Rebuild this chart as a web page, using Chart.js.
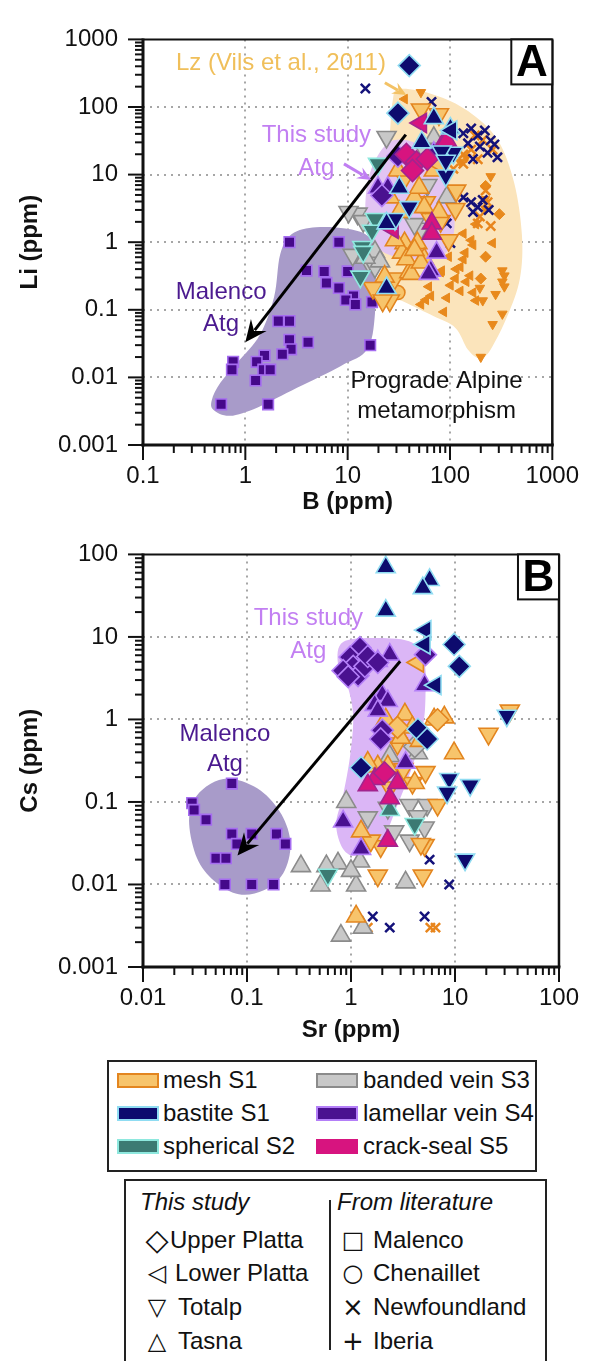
<!DOCTYPE html>
<html>
<head>
<meta charset="utf-8">
<script src="https://cdn.jsdelivr.net/npm/chart.js@4.4.1/dist/chart.umd.min.js"></script>
<style>
  body { margin: 0; background: #fff; width: 596px; height: 1361px; overflow: hidden; position: relative;
         font-family: 'Liberation Sans', Arial, sans-serif; color: #111; }
  canvas { position: absolute; left: 0; }
  .box { position: absolute; border: 2px solid #222; box-sizing: border-box; }
  .box span { position: absolute; font-size: 24px; line-height: 30px; white-space: nowrap; }
  .sw { position: absolute; width: 42px; height: 15px; border: 2px solid; box-sizing: border-box; }
  .box span.sym { width: 36px; text-align: center; font-family: 'DejaVu Sans', sans-serif; }
  .box span.head { font-style: italic; }
  .divider { position: absolute; width: 2px; background: #222; }
</style>
</head>
<body>
<canvas id="chartA" width="596" height="515" style="top:0"></canvas>
<canvas id="chartB" width="596" height="530" style="top:515px"></canvas>

<div class="box" style="left:107px;top:1060px;width:430px;height:112px">
  <div class="sw" style="left:8px;top:11px;background:#f7c46b;border-color:#e3851f"></div><span style="left:54px;top:3px">mesh S1</span>
  <div class="sw" style="left:8px;top:44px;background:#0d0b6e;border-color:#8fdcf2"></div><span style="left:54px;top:36px">bastite S1</span>
  <div class="sw" style="left:8px;top:77px;background:#3c7a73;border-color:#8ee8de"></div><span style="left:54px;top:69px">spherical S2</span>
  <div class="sw" style="left:207px;top:11px;background:#c8c8c8;border-color:#8b8b8b"></div><span style="left:254px;top:3px">banded vein S3</span>
  <div class="sw" style="left:207px;top:44px;background:#4a1190;border-color:#b47ff8"></div><span style="left:254px;top:36px">lamellar vein S4</span>
  <div class="sw" style="left:207px;top:77px;background:#d7147f;border-color:#d7147f"></div><span style="left:254px;top:69px">crack-seal S5</span>
</div>

<div class="box" style="left:124px;top:1179px;width:423px;height:200px">
  <span class="head" style="left:14px;top:6px">This study</span>
  <span class="head" style="left:211px;top:6px">From literature</span>
  <div class="divider" style="left:203px;top:19px;height:150px"></div>
  <span class="sym" style="left:13px;top:44px;font-size:30px">◇</span><span style="left:44px;top:44px">Upper Platta</span>
  <span class="sym" style="left:13px;top:77px;font-size:24px">◁</span><span style="left:49px;top:77px">Lower Platta</span>
  <span class="sym" style="left:13px;top:111px;font-size:24px">▽</span><span style="left:52px;top:111px">Totalp</span>
  <span class="sym" style="left:13px;top:145px;font-size:24px">△</span><span style="left:52px;top:145px">Tasna</span>
  <span class="sym" style="left:209px;top:44px;font-size:24px">□</span><span style="left:247px;top:44px">Malenco</span>
  <span class="sym" style="left:209px;top:77px;font-size:24px">○</span><span style="left:247px;top:77px">Chenaillet</span>
  <span class="sym" style="left:209px;top:111px;font-size:26px">×</span><span style="left:247px;top:111px">Newfoundland</span>
  <span class="sym" style="left:209px;top:145px;font-size:26px">+</span><span style="left:247px;top:145px">Iberia</span>
</div>

<script>
//--------------------------------------------------------
// tick labels (decades only)
const bTicks  = [0.1, 1, 10, 100, 1000];
const liTicks = [0.001, 0.01, 0.1, 1, 10, 100, 1000];
const srTicks = [0.01, 0.1, 1, 10, 100];
const csTicks = [0.001, 0.01, 0.1, 1, 10, 100];

//--------------------------------------------------------
// PANEL A : B (ppm) vs Li (ppm)   [B, Li]
const bastiteUpperA  = [[40, 410], [31, 81]];
const bastiteLowerA  = [[103, 45]];
const bastiteTasnaA  = [[69.5, 68.5], [101, 48], [32, 6.4], [24, 1.9], [24, 0.21], [53, 30]];
const bastiteTotalpA = [[108, 21], [91, 9.7], [40, 3.3], [29, 2.2], [83, 22], [91, 16]];
const bastiteNewfA   = [[14.9, 188], [66, 119], [135, 41], [161, 48], [187, 38], [219, 45], [250, 32], [272, 28],
                        [196, 26], [150, 29], [233, 21], [291, 18], [168, 17], [135, 4.6], [161, 3.9], [187, 3.3],
                        [209, 4.2], [239, 3.0], [168, 2.8], [93, 1.9], [101, 0.97]];

const meshTotalpA = [[52, 92], [78, 78], [115, 5.8], [113, 3.1], [17.7, 0.21], [25.8, 0.137], [22, 0.137],
                     [28.8, 0.29], [36, 8.8], [65, 2.2], [97, 1.07], [58, 3.9], [81, 2.05]];
const meshTasnaA  = [[31, 11.5], [69.5, 11.5], [36, 0.97], [34, 0.70], [48, 0.97], [40, 0.36], [23, 0.31],
                     [56, 0.56], [42, 0.34], [37.5, 0.56], [52, 0.50], [45, 4.6], [56, 3.3], [26, 4.6],
                     [32, 2.8], [50, 6.4], [78, 2.8], [29, 1.07], [45, 0.77]];
const meshLowerA  = [[78, 14.4]];
const meshChenA   = [[31, 0.18]];
const meshNewfA   = [[175, 38], [209, 32.5], [161, 23.4], [135, 19.9], [261, 23.4], [187, 16.9], [223, 5.8],
                     [233, 3.9], [196, 2.4], [250, 1.74], [187, 1.9], [135, 14.4], [108, 12.2]];

const lzDownA    = [[250, 9.4], [219, 4.3], [223, 3.1], [340, 0.32], [325, 0.38], [325, 0.26], [325, 0.087],
                    [261, 0.061], [200, 0.020], [279, 0.17], [340, 0.22], [209, 0.137], [196, 0.21], [144, 18],
                    [126, 15.4], [52, 165]];
const lzLeftA    = [[36, 131], [179, 1.85], [135, 1.34], [161, 1.07], [261, 0.97], [135, 0.56], [157, 0.32],
                    [115, 0.40], [101, 0.23], [81, 0.36], [52, 0.12], [65, 0.16], [62, 0.22], [58, 0.14],
                    [87, 0.093], [93, 0.15], [113, 0.29], [126, 0.19], [144, 0.26], [168, 0.18], [179, 0.137],
                    [141, 0.70], [168, 0.91], [83, 0.38], [97, 0.61], [126, 0.43]];
const lzDiamondA = [[304, 2.6], [223, 0.61], [200, 0.29], [223, 6.8]];

const bandedTotalpA = [[24, 36], [56, 23], [60, 7.0], [12.5, 2.65], [10.2, 2.8], [11.2, 0.65], [15.9, 0.52],
                       [18.5, 0.43], [52, 1.58], [45, 1.85], [14.2, 2.05]];
const bandedTasnaA  = [[93, 4.6], [18.5, 0.72], [20.7, 0.52], [14.9, 0.59], [69.5, 35]];

const sphericalTotalpA = [[18.5, 2.2], [17.3, 1.48], [13.9, 0.85], [13.3, 0.31], [14.2, 0.72], [19.8, 14.4]];

const lamellarUpperA = [[31, 18.7], [21.6, 4.9]];
const lamellarTasnaA = [[19.8, 6.4], [24.7, 6.4], [74, 0.70], [65, 0.38], [62, 0.34], [69.5, 21]];

const crackLowerA = [[52, 58], [27.5, 1.58]];
const crackUpperA = [[37.5, 19.9], [47, 15.4], [43, 11.5], [60, 17]];
const crackTasnaA = [[87, 30], [66.5, 1.9], [66.5, 1.34], [93, 32]];

const malencoA = [[2.7, 1.0], [8.2, 1.0], [3.96, 0.38], [5.9, 0.37], [6.2, 0.25], [8.2, 0.21], [10, 0.37],
                  [11.4, 0.16], [9.6, 0.14], [11.9, 0.12], [17.3, 0.13], [16.6, 0.03], [2.7, 0.068], [2.1, 0.068],
                  [2.7, 0.036], [4.1, 0.033], [2.8, 0.026], [2.3, 0.022], [1.54, 0.021], [0.76, 0.017],
                  [0.74, 0.013], [1.29, 0.017], [1.5, 0.013], [1.75, 0.013], [1.26, 0.009], [0.58, 0.004], [1.67, 0.004]];

// field outlines (B, Li)
const malencoFieldA = [[0.47, 0.0046], [0.57, 0.0083], [0.85, 0.017], [1.38, 0.042], [1.91, 0.155], [2.19, 0.66],
                       [2.85, 1.32], [4.9, 1.66], [9.5, 1.6], [15.5, 1.26], [18.5, 0.66], [18.5, 0.089], [15.5, 0.026],
                       [8.6, 0.0148], [3.2, 0.007], [1.32, 0.0036], [0.71, 0.0027], [0.49, 0.0033]];
const lzFieldA = [[32.1, 184], [69.5, 152], [150, 87], [291, 32.9], [424, 7.6], [505, 1.27], [483, 0.294],
                  [363, 0.080], [249, 0.0257], [196, 0.0191], [150, 0.0257], [113, 0.054], [69.5, 0.080],
                  [35.9, 0.13], [24.2, 0.18], [20.7, 0.56], [23.1, 5.5], [25.8, 38.7], [27.5, 121]];
const studyFieldA = [[17, 12], [28.8, 32.5], [69.5, 19.9], [108, 3.9], [97, 0.77], [45, 0.56], [20, 0.8], [15, 2.5]];

//--------------------------------------------------------
// PANEL B : Sr (ppm) vs Cs (ppm)   [Sr, Cs]
const bastiteTasnaB  = [[2.16, 70], [5.7, 49], [4.9, 39], [2.16, 20.8]];
const bastiteLowerB  = [[5.2, 12.1], [5.1, 8.1], [6.5, 2.6]];
const bastiteUpperB  = [[9.8, 8.1], [11, 4.4], [4.4, 0.76], [5.4, 0.58], [1.25, 0.26]];
const bastiteTotalpB = [[31.5, 1.11], [8.8, 0.19], [8.4, 0.13], [14, 0.16], [12.5, 0.020]];
const bastiteNewfB   = [[5.7, 0.020], [8.8, 0.010], [1.62, 0.0041], [2.36, 0.0030], [5.1, 0.0041]];

const meshTasnaB  = [[3.3, 1.15], [6.3, 1.0], [7.9, 1.06], [9.8, 0.39], [1.81, 0.27], [4.1, 0.17], [1.25, 0.044],
                     [1.12, 0.0041], [2.16, 1.0], [3.9, 0.8], [2.26, 0.27], [1.45, 0.30], [3.0, 0.6], [4.6, 0.55]];
const meshTotalpB = [[21, 0.67], [2.8, 0.51], [2.36, 0.15], [3.9, 0.17], [1.93, 0.029], [5.1, 0.030], [6.8, 0.092],
                     [1.81, 0.0128], [4.9, 0.0128], [33.7, 1.28], [1.55, 0.034], [4.7, 0.031], [3.2, 0.25], [5.2, 0.23]];
const meshLowerB  = [[4.4, 4.9]];
const meshUpperB  = [[2.8, 0.8], [6.8, 0.99]];
const meshNewfB   = [[1.3, 0.0030], [1.45, 0.0030], [5.8, 0.0030], [6.5, 0.0030]];

const bandedTasnaB  = [[2.36, 0.36], [4.4, 0.39], [0.9, 0.10], [1.22, 0.019], [0.75, 0.018], [0.58, 0.0167],
                       [0.33, 0.0167], [0.51, 0.0097], [1.12, 0.0097], [3.35, 0.0106], [0.80, 0.0024],
                       [1.3, 0.0030], [1.0, 0.0146]];
const bandedTotalpB = [[1.45, 0.065], [3.66, 0.092], [5.4, 0.092], [2.6, 0.044], [3.66, 0.034], [5.1, 0.049],
                       [4.4, 0.067], [2.26, 0.085]];
const bandedUpperB  = [[4.1, 0.47]];

const sphericalTotalpB = [[0.60, 0.0131], [4.1, 0.054]];
const sphericalTasnaB  = [[2.36, 0.080]];

const lamellarUpperB = [[1.22, 7.4], [0.98, 5.7], [1.05, 4.4], [0.84, 3.9], [1.17, 3.4], [1.36, 4.4], [1.45, 5.8],
                        [1.81, 4.9], [0.94, 3.3], [5.2, 6.1], [2.0, 0.74], [1.93, 0.58]];
const lamellarTasnaB = [[1.81, 5.1], [2.36, 6.1], [2.0, 1.97], [2.26, 1.67], [1.69, 1.5], [1.81, 1.28], [5.1, 2.6],
                        [3.35, 0.30], [0.84, 0.058], [1.25, 0.027]];

const crackTasnaB = [[1.7, 0.19], [2.36, 0.111], [1.45, 0.16], [2.26, 0.034], [2.8, 0.17]];
const crackUpperB = [[2.1, 0.225]];

const malencoB = [[0.0715, 0.167], [0.0297, 0.097], [0.031, 0.080], [0.0404, 0.061], [0.0715, 0.041], [0.111, 0.041],
                  [0.080, 0.031], [0.192, 0.041], [0.234, 0.031], [0.0503, 0.0208], [0.0627, 0.0208],
                  [0.0613, 0.010], [0.111, 0.010], [0.18, 0.010]];

const malencoFieldB = [[0.0715, 0.191], [0.135, 0.138], [0.215, 0.0703], [0.262, 0.031], [0.224, 0.0138],
                       [0.145, 0.0085], [0.0834, 0.0076], [0.0482, 0.0111], [0.0331, 0.0208], [0.0278, 0.0536],
                       [0.031, 0.106], [0.0451, 0.167]];
const studyFieldB = [[0.84, 8.7], [1.81, 9.7], [3.9, 8.5], [5.1, 4.7], [5.2, 1.82], [4.9, 0.81], [3.9, 0.27],
                     [2.8, 0.092], [2.0, 0.036], [1.17, 0.0225], [0.84, 0.027], [0.72, 0.054], [0.84, 0.121],
                     [0.98, 0.36], [1.05, 1.06], [0.94, 2.38], [0.75, 4.7]];

// trend arrows [from, to]
const arrowA = [[37, 39], [1.0, 0.033]];
const arrowB = [[2.97, 5.08], [0.081, 0.0225]];

//--------------------------------------------------------
//--------------------------------------------------------
// STYLES

const FONT = "'Liberation Sans', Arial, Helvetica, sans-serif";
Chart.defaults.font.family = FONT;

const colours = {
  mesh:      { fill: '#f7c46b', edge: '#e3851f' },
  bastite:   { fill: '#0d0b6e', edge: '#8fdcf2' },
  spherical: { fill: '#3c7a73', edge: '#8ee8de' },
  banded:    { fill: '#c8c8c8', edge: '#8b8b8b' },
  lamellar:  { fill: '#4a1190', edge: '#b47ff8' },
  crack:     { fill: '#d7147f', edge: '#a2248e' },
  malenco:   { fill: '#45098a', edge: '#a56cf0' },
  lz:        { fill: '#e8891c', edge: '#e8891c' }
};

const shapes = {
  upper:  { style: 'rectRot',  rot: 0,   r: 11 },
  lower:  { style: 'triangle', rot: -90, r: 11 },
  totalp: { style: 'triangle', rot: 180, r: 11 },
  tasna:  { style: 'triangle', rot: 0,   r: 11 },
  square: { style: 'rect',     rot: 0,   r: 7.5 },
  circle: { style: 'circle',   rot: 0,   r: 7 },
  cross:  { style: 'crossRot', rot: 0,   r: 6.5 },
  smallDown: { style: 'triangle', rot: 180, r: 5.5 },
  smallLeft: { style: 'triangle', rot: -90, r: 5.5 },
  smallDiam: { style: 'rectRot',  rot: 0,   r: 5.5 }
};

function ds(arr, kind, shape, lineColour) {
  const c = colours[kind], s = shapes[shape];
  return {
    data: arr.map(p => ({ x: p[0], y: p[1] })),
    pointStyle: s.style,
    pointRotation: s.rot,
    pointRadius: s.r,
    backgroundColor: c.fill,
    borderColor: lineColour || c.edge,
    borderWidth: lineColour ? 2.5 : (s.r < 6 ? 1 : 1.6)
  };
}

function axis(min, max, ticks, size, pad) {
  return {
    type: 'logarithmic',
    min: min, max: max,
    afterBuildTicks: s => { s.ticks = ticks.map(v => ({ value: v })); },
    afterFit: size,
    ticks: {
      autoSkip: false, maxRotation: 0, color: '#111',
      font: { size: 24 },
      padding: pad,
      callback: v => ticks.includes(v) ? String(v) : ''
    },
    grid: {
      drawTicks: false, lineWidth: 2,
      color: c => (c.index > 0 && c.index < ticks.length - 1) ? '#a6a6a6' : 'rgba(0,0,0,0)'
    },
    border: { display: false, dash: [2, 5] }
  };
}

function smoothClosed(ctx, p) {
  const n = p.length;
  ctx.moveTo(p[0][0], p[0][1]);
  for (let i = 0; i < n; i++) {
    const p0 = p[(i - 1 + n) % n], p1 = p[i], p2 = p[(i + 1) % n], p3 = p[(i + 2) % n];
    ctx.bezierCurveTo(p1[0] + (p2[0] - p0[0]) / 6, p1[1] + (p2[1] - p0[1]) / 6,
                      p2[0] - (p3[0] - p1[0]) / 6, p2[1] - (p3[1] - p1[1]) / 6, p2[0], p2[1]);
  }
  ctx.closePath();
}

function drawArrow(ctx, x1, y1, x2, y2, colour, w, head) {
  const a = Math.atan2(y2 - y1, x2 - x1), c = Math.cos(a), s = Math.sin(a);
  ctx.strokeStyle = colour; ctx.fillStyle = colour; ctx.lineWidth = w;
  ctx.beginPath(); ctx.moveTo(x1, y1); ctx.lineTo(x2 - c * head * 0.7, y2 - s * head * 0.7); ctx.stroke();
  ctx.beginPath();
  ctx.moveTo(x2, y2);
  ctx.lineTo(x2 - c * head + s * head * 0.45, y2 - s * head - c * head * 0.45);
  ctx.lineTo(x2 - c * head * 0.65, y2 - s * head * 0.65);
  ctx.lineTo(x2 - c * head - s * head * 0.45, y2 - s * head + c * head * 0.45);
  ctx.closePath(); ctx.fill();
}

// fields, arrows, notes, frame, minor ticks, titles, panel letter
function deco(cfg) {
  return {
    id: 'deco',
    beforeDatasetsDraw(chart) {
      const { ctx, chartArea: a, scales: { x, y } } = chart;
      ctx.save();
      ctx.beginPath(); ctx.rect(a.left, a.top, a.right - a.left, a.bottom - a.top); ctx.clip();
      cfg.fields.forEach(f => {
        const p = f.data.map(v => [x.getPixelForValue(v[0]), y.getPixelForValue(v[1])]);
        ctx.beginPath(); smoothClosed(ctx, p);
        ctx.fillStyle = f.colour; ctx.fill();
      });
      ctx.restore();
    },
    afterDatasetsDraw(chart) {
      const { ctx, scales: { x, y } } = chart;
      ctx.save();
      cfg.arrows.forEach(r => {
        drawArrow(ctx, x.getPixelForValue(r.d[0][0]), y.getPixelForValue(r.d[0][1]),
                  x.getPixelForValue(r.d[1][0]), y.getPixelForValue(r.d[1][1]), r.colour, r.w, r.head);
      });
      ctx.textAlign = 'center'; ctx.textBaseline = 'middle';
      cfg.notes.forEach(t => {
        ctx.font = '24px ' + FONT; ctx.fillStyle = t.colour;
        ctx.fillText(t.text, x.getPixelForValue(t.at[0]), y.getPixelForValue(t.at[1]));
      });
      ctx.restore();
    },
    afterDraw(chart) {
      const { ctx, chartArea: a, scales: { x, y } } = chart;
      ctx.save();
      ctx.strokeStyle = '#111';
      ctx.lineWidth = 2;
      ctx.beginPath(); ctx.moveTo(a.left, a.top); ctx.lineTo(a.right, a.top); ctx.stroke();
      ctx.lineWidth = 2.5;
      ctx.beginPath(); ctx.moveTo(a.right, a.top); ctx.lineTo(a.right, a.bottom); ctx.stroke();
      ctx.lineWidth = 3;
      ctx.beginPath(); ctx.moveTo(a.left, a.top - 1); ctx.lineTo(a.left, a.bottom + 1.5); ctx.stroke();
      ctx.beginPath(); ctx.moveTo(a.left - 1.5, a.bottom); ctx.lineTo(a.right + 1.5, a.bottom); ctx.stroke();
      // tick marks
      ctx.lineWidth = 2;
      const marks = (ticks, fn) => ticks.forEach((d, i) => {
        fn(d, 15);
        if (i < ticks.length - 1) for (let m = 2; m <= 9; m++) fn(m * d, 8);
      });
      marks(cfg.xTicks, (v, len) => {
        const px = x.getPixelForValue(v);
        ctx.beginPath(); ctx.moveTo(px, a.bottom); ctx.lineTo(px, a.bottom + len); ctx.stroke();
      });
      marks(cfg.yTicks, (v, len) => {
        const py = y.getPixelForValue(v);
        ctx.beginPath(); ctx.moveTo(a.left, py); ctx.lineTo(a.left - len, py); ctx.stroke();
      });
      // axis titles
      ctx.fillStyle = '#111';
      ctx.font = 'bold 24px ' + FONT;
      ctx.textAlign = 'center'; ctx.textBaseline = 'middle';
      ctx.fillText(cfg.xTitle, (a.left + a.right) / 2, cfg.xTitleY);
      ctx.save();
      ctx.translate(30, (a.top + a.bottom) / 2); ctx.rotate(-Math.PI / 2);
      ctx.fillText(cfg.yTitle, 0, 0);
      ctx.restore();
      // panel letter
      ctx.fillStyle = '#fff';
      ctx.fillRect(a.right - 41, a.top, 41, 45);
      ctx.lineWidth = 2;
      ctx.strokeRect(a.right - 41, a.top, 41, 45);
      ctx.fillStyle = '#000';
      ctx.font = 'bold 44px ' + FONT;
      ctx.fillText(cfg.letter, a.right - 20.5, a.top + 24);
      ctx.restore();
    }
  };
}

function baseOptions(xs, ys, padTop) {
  return {
    responsive: false, animation: false, events: [], devicePixelRatio: 1,
    layout: { padding: { top: padTop, right: 34, left: 0, bottom: 0 } },
    plugins: { legend: { display: false }, tooltip: { enabled: false } },
    scales: { x: xs, y: ys }
  };
}

//--------------------------------------------------------
//--------------------------------------------------------
//
// GRAFICA A

new Chart(document.getElementById('chartA'), {
  type: 'scatter',
  data: {
    datasets: [
      ds(bastiteUpperA, 'bastite', 'upper'),
      ds(bastiteLowerA, 'bastite', 'lower'),
      ds(bastiteTasnaA, 'bastite', 'tasna'),
      ds(bastiteTotalpA, 'bastite', 'totalp'),
      ds(crackUpperA, 'crack', 'upper'),
      ds(crackLowerA, 'crack', 'lower'),
      ds(crackTasnaA, 'crack', 'tasna'),
      ds(lamellarUpperA, 'lamellar', 'upper'),
      ds(lamellarTasnaA, 'lamellar', 'tasna'),
      ds(sphericalTotalpA, 'spherical', 'totalp'),
      ds(meshLowerA, 'mesh', 'lower'),
      ds(meshTasnaA, 'mesh', 'tasna'),
      ds(meshTotalpA, 'mesh', 'totalp'),
      ds(bandedTasnaA, 'banded', 'tasna'),
      ds(bandedTotalpA, 'banded', 'totalp'),
      ds(meshChenA, 'mesh', 'circle'),
      ds(malencoA, 'malenco', 'square'),
      ds(bastiteNewfA, 'bastite', 'cross', '#14127a'),
      ds(meshNewfA, 'mesh', 'cross', '#e8851c'),
      ds(lzDiamondA, 'lz', 'smallDiam'),
      ds(lzLeftA, 'lz', 'smallLeft'),
      ds(lzDownA, 'lz', 'smallDown')
    ]
  },
  options: baseOptions(
    axis(0.1, 1000, bTicks, s => { s.height = 70; }, 17),
    axis(0.001, 1000, liTicks, s => { s.width = 143; }, 25),
    20),
  plugins: [deco({
    fields: [
      { data: lzFieldA, colour: '#fbe4bb' },
      { data: studyFieldA, colour: '#e2c4f2' },
      { data: malencoFieldA, colour: '#a89bc9' }
    ],
    arrows: [
      { d: arrowA, colour: '#000', w: 3, head: 22 },
      { d: [[23.1, 229], [37.5, 150]], colour: '#f3c265', w: 3, head: 14 },
      { d: [[9.2, 14.4], [17, 8.3]], colour: '#c07ef2', w: 3, head: 14 }
    ],
    notes: [
      { text: 'Lz (Vils et al., 2011)', at: [2.23, 438], colour: '#f0bf5a' },
      { text: 'This study', at: [4.94, 38.2], colour: '#c27ff2' },
      { text: 'Atg', at: [4.94, 12.2], colour: '#c27ff2' },
      { text: 'Malenco', at: [0.58, 0.178], colour: '#4b1a8f' },
      { text: 'Atg', at: [0.58, 0.061], colour: '#4b1a8f' },
      { text: 'Prograde Alpine', at: [74, 0.0087], colour: '#111' },
      { text: 'metamorphism', at: [74, 0.0031], colour: '#111' }
    ],
    xTicks: bTicks, yTicks: liTicks,
    xTitle: 'B (ppm)', yTitle: 'Li (ppm)', xTitleY: 502, letter: 'A'
  })]
});

//--------------------------------------------------------
//
// GRAFICA B

new Chart(document.getElementById('chartB'), {
  type: 'scatter',
  data: {
    datasets: [
      ds(bastiteUpperB, 'bastite', 'upper'),
      ds(bastiteLowerB, 'bastite', 'lower'),
      ds(bastiteTasnaB, 'bastite', 'tasna'),
      ds(bastiteTotalpB, 'bastite', 'totalp'),
      ds(lamellarUpperB, 'lamellar', 'upper'),
      ds(lamellarTasnaB, 'lamellar', 'tasna'),
      ds(crackUpperB, 'crack', 'upper'),
      ds(crackTasnaB, 'crack', 'tasna'),
      ds(meshUpperB, 'mesh', 'upper'),
      ds(meshLowerB, 'mesh', 'lower'),
      ds(meshTasnaB, 'mesh', 'tasna'),
      ds(meshTotalpB, 'mesh', 'totalp'),
      ds(sphericalTasnaB, 'spherical', 'tasna'),
      ds(sphericalTotalpB, 'spherical', 'totalp'),
      ds(bandedUpperB, 'banded', 'upper'),
      ds(bandedTasnaB, 'banded', 'tasna'),
      ds(bandedTotalpB, 'banded', 'totalp'),
      ds(malencoB, 'malenco', 'square'),
      ds(bastiteNewfB, 'bastite', 'cross', '#14127a'),
      ds(meshNewfB, 'mesh', 'cross', '#e8851c')
    ]
  },
  options: baseOptions(
    axis(0.01, 100, srTicks, s => { s.height = 78; }, 17),
    axis(0.001, 100, csTicks, s => { s.width = 143; }, 25),
    27),
  plugins: [deco({
    fields: [
      { data: studyFieldB, colour: '#dbb6f6' },
      { data: malencoFieldB, colour: '#a89bc9' }
    ],
    arrows: [
      { d: arrowB, colour: '#000', w: 3, head: 22 }
    ],
    notes: [
      { text: 'This study', at: [0.389, 16.7], colour: '#c27ff2' },
      { text: 'Atg', at: [0.389, 6.7], colour: '#c27ff2' },
      { text: 'Malenco', at: [0.0613, 0.667], colour: '#4b1a8f' },
      { text: 'Atg', at: [0.0613, 0.288], colour: '#4b1a8f' }
    ],
    xTicks: srTicks, yTicks: csTicks,
    xTitle: 'Sr (ppm)', yTitle: 'Cs (ppm)', xTitleY: 515, letter: 'B'
  })]
});
</script>
</body>
</html>
